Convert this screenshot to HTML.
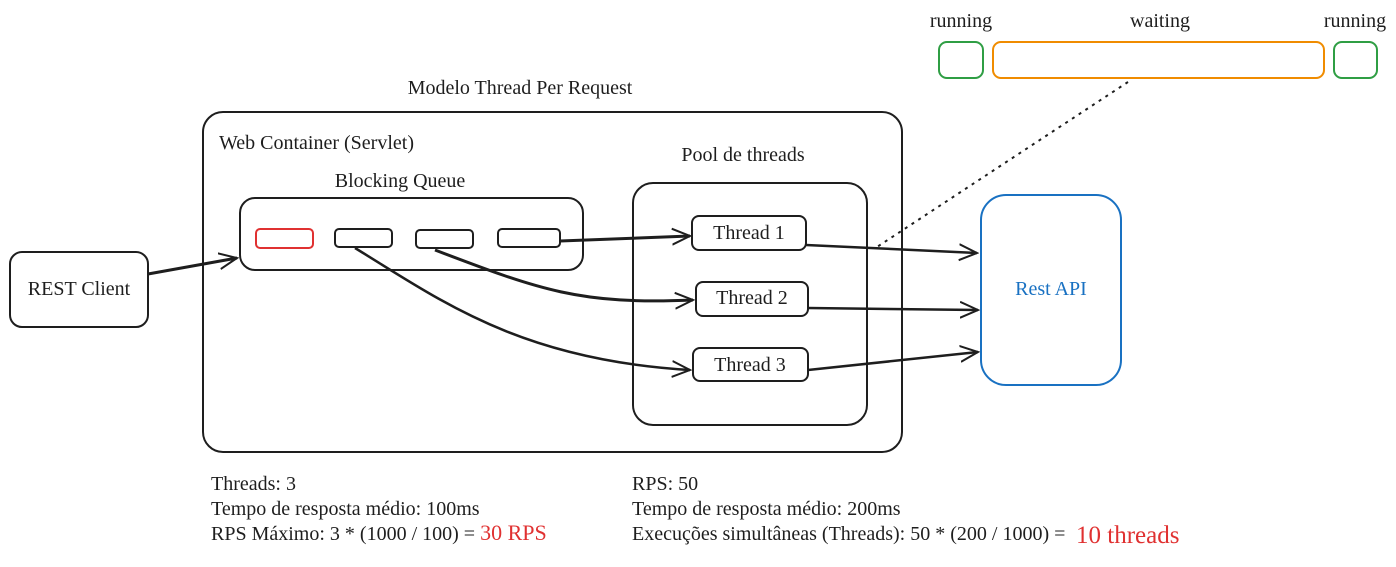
<!DOCTYPE html>
<html><head><meta charset="utf-8"><style>
body{margin:0;background:#fff}
text{font-family:"Liberation Serif",serif;font-size:20px;fill:#1e1e1e}
</style></head><body>
<svg width="1396" height="562" viewBox="0 0 1396 562" xmlns="http://www.w3.org/2000/svg">
<defs>
<marker id="a" viewBox="0 0 20 20" refX="18" refY="10" markerWidth="20" markerHeight="20" markerUnits="userSpaceOnUse" orient="auto">
<path d="M0 2 L18 10 L0 18" fill="none" stroke="#1e1e1e" stroke-width="2"/>
</marker>
</defs>
<g fill="none" stroke="#1e1e1e" stroke-width="2">
<rect x="10" y="252" width="138" height="75" rx="12"/>
<rect x="203" y="112" width="699" height="340" rx="20"/>
<rect x="240" y="198" width="343" height="72" rx="15"/>
<rect x="256" y="229" width="57" height="19" rx="4" stroke="#e03131"/>
<rect x="335" y="229" width="57" height="18" rx="4"/>
<rect x="416" y="230" width="57" height="18" rx="4"/>
<rect x="498" y="229" width="62" height="18" rx="4"/>
<rect x="633" y="183" width="234" height="242" rx="20"/>
<rect x="692" y="216" width="114" height="34" rx="7"/>
<rect x="696" y="282" width="112" height="34" rx="7"/>
<rect x="693" y="348" width="115" height="33" rx="7"/>
<rect x="981" y="195" width="140" height="190" rx="25" stroke="#1971c2"/>
<rect x="939" y="42" width="44" height="36" rx="8" stroke="#2f9e44"/>
<rect x="993" y="42" width="331" height="36" rx="8" stroke="#f08c00"/>
<rect x="1334" y="42" width="43" height="36" rx="8" stroke="#2f9e44"/>
<path d="M1128 82 L877 247" stroke-dasharray="3 5"/>
<path d="M148 274 L237 258" marker-end="url(#a)" stroke-width="3"/>
<path d="M560 241 L690 236" marker-end="url(#a)" stroke-width="3"/>
<path d="M355 248 C440 300, 520 360, 690 370" marker-end="url(#a)" stroke-width="2.5"/>
<path d="M435 250 C540 290, 580 305, 693 300" marker-end="url(#a)" stroke-width="3"/>
<path d="M806 245 L977 253" marker-end="url(#a)" stroke-width="2.5"/>
<path d="M808 308 L978 310" marker-end="url(#a)" stroke-width="2.5"/>
<path d="M808 370 L978 352" marker-end="url(#a)" stroke-width="2.5"/>
</g>
<text x="79" y="295" text-anchor="middle">REST Client</text>
<text x="520" y="94" text-anchor="middle">Modelo Thread Per Request</text>
<text x="219" y="149">Web Container (Servlet)</text>
<text x="400" y="187" text-anchor="middle">Blocking Queue</text>
<text x="743" y="161" text-anchor="middle">Pool de threads</text>
<text x="749" y="239" text-anchor="middle">Thread 1</text>
<text x="752" y="304" text-anchor="middle">Thread 2</text>
<text x="750" y="371" text-anchor="middle">Thread 3</text>
<text x="1051" y="295" text-anchor="middle" style="fill:#1971c2">Rest API</text>
<text x="961" y="27" text-anchor="middle">running</text>
<text x="1160" y="27" text-anchor="middle">waiting</text>
<text x="1355" y="27" text-anchor="middle">running</text>
<text x="211" y="490">Threads: 3</text>
<text x="211" y="515">Tempo de resposta médio: 100ms</text>
<text x="211" y="540">RPS Máximo: 3 * (1000 / 100) = <tspan style="fill:#e03131;font-size:22px">30 RPS</tspan></text>
<text x="632" y="490">RPS: 50</text>
<text x="632" y="515">Tempo de resposta médio: 200ms</text>
<text x="632" y="540">Execuções simultâneas (Threads): 50 * (200 / 1000) =</text>
<text x="1076" y="543" style="fill:#e03131;font-size:25px">10 threads</text>
</svg>
</body></html>
